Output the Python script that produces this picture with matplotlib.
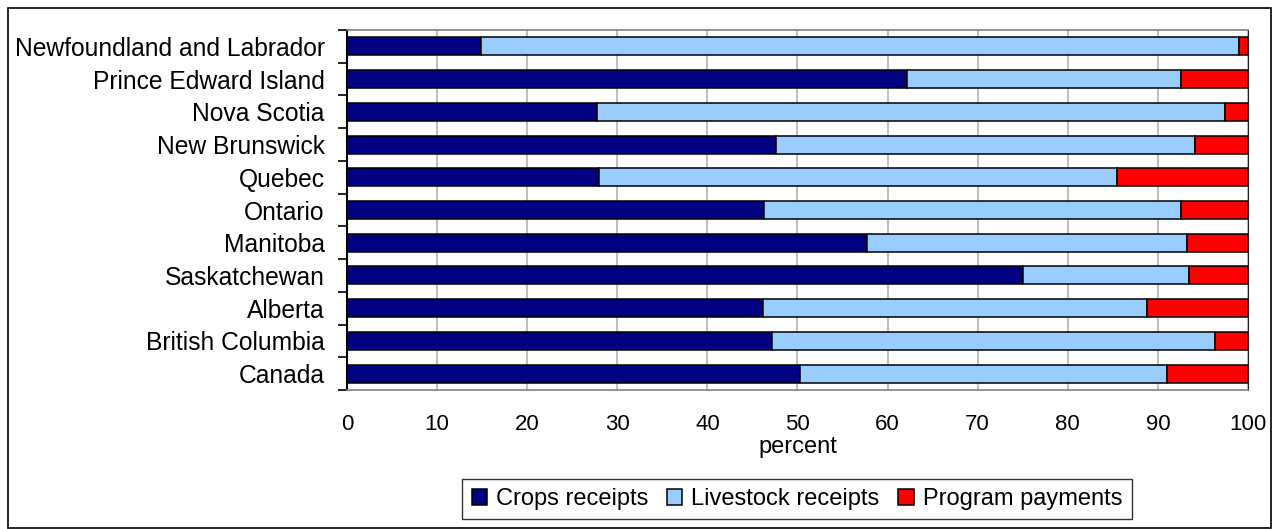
import matplotlib
matplotlib.use("Agg")
from matplotlib import pyplot as plt
from matplotlib.patches import Rectangle
import numpy as np

plt.rcParams['font.family'] = ['Liberation Sans', 'DejaVu Sans']

provinces = ['Newfoundland and Labrador', 'Prince Edward Island', 'Nova Scotia',
             'New Brunswick', 'Quebec', 'Ontario', 'Manitoba', 'Saskatchewan',
             'Alberta', 'British Columbia', 'Canada']
crops = [14.9, 62.2, 27.8, 47.6, 28.0, 46.3, 57.7, 75.0, 46.2, 47.2, 50.3]
livestock = [84.1, 30.4, 69.6, 46.5, 57.5, 46.3, 35.5, 18.4, 42.6, 49.1, 40.7]
program = [1.0, 7.4, 2.6, 5.9, 14.5, 7.4, 6.8, 6.6, 11.2, 3.7, 9.0]

series = [('Crops receipts', crops, '#000080'),
          ('Livestock receipts', livestock, '#99ccff'),
          ('Program payments', program, '#ff0000')]

W, H = 1278, 529
fig = plt.figure(figsize=(W / 100, H / 100), dpi=100)
# plot area in pixels: x 347..1248, y 30..390
ax = fig.add_axes([347 / W, 1 - 390 / H, 901 / W, 360 / H])

y = np.arange(len(provinces))[::-1]
left = np.zeros(len(provinces))
for name, vals, color in series:
    ax.barh(y, vals, left=left, height=0.55, color=color, edgecolor='black',
            linewidth=1.1, label=name, zorder=3)
    left += np.array(vals)

ax.set_xlim(0, 100)
ax.set_ylim(-0.5, len(provinces) - 0.5)
ax.set_xticks(np.arange(0, 101, 10))
ax.set_yticks(y)
ax.set_yticklabels(provinces)
ax.set_yticks(np.arange(-0.5, len(provinces), 1), minor=True)
ax.tick_params(axis='y', which='major', length=0, pad=16, labelsize=17.7)
ax.tick_params(axis='y', which='minor', length=6.5, width=1.2, color='black')
ax.tick_params(axis='x', length=0, pad=17, labelsize=16)
ax.grid(axis='x', color='#c0c0c0', linewidth=1.5, zorder=0)
for s in ['top', 'bottom']:
    ax.spines[s].set_color('#808080')
    ax.spines[s].set_linewidth(1.2)
ax.spines['right'].set_color('#202020')
ax.spines['left'].set_linewidth(1.5)
ax.set_xlabel('percent', fontsize=17)
ax.xaxis.set_label_coords(0.5, -(436 - 390) / 360)

leg = ax.legend(loc='center', bbox_to_anchor=(797 / W, 1 - 499 / H),
                bbox_transform=fig.transFigure, ncol=3, fontsize=17,
                frameon=True, fancybox=False, handlelength=0.64, handleheight=0.64,
                handletextpad=0.38, columnspacing=0.8, borderpad=0.4,
                borderaxespad=0, edgecolor='black')
leg.get_frame().set_linewidth(1.0)

# outer frame around the whole figure
fig.patches.append(Rectangle((8 / W, 1 / H), (1271 - 8) / W, (528 - 8) / H,
                             transform=fig.transFigure, fill=False,
                             edgecolor='black', linewidth=1.2))

fig.savefig('out.png', dpi=100)
